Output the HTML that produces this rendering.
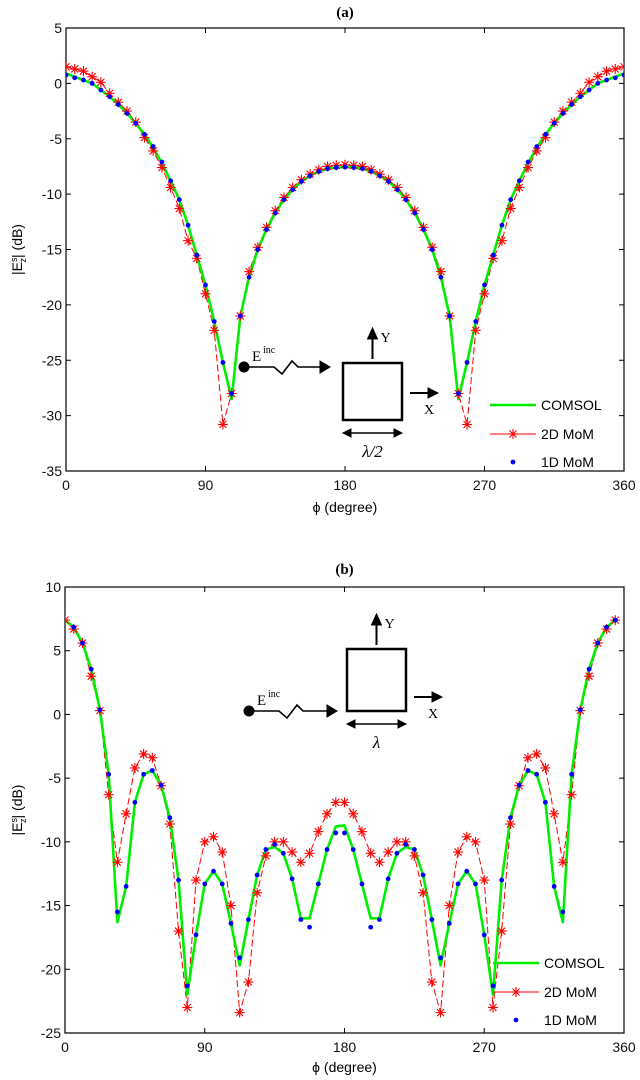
<!DOCTYPE html>
<html><head><meta charset="utf-8">
<style>
body{margin:0;background:#fff;}
svg{display:block;font-family:"Liberation Sans",sans-serif;}
.tk{font-size:14px;fill:#111;}
.ser{font-family:"Liberation Serif",serif;}
</style></head>
<body>
<svg id="chart" width="640" height="1080" viewBox="0 0 640 1080"></svg>
<script>
// ---------- Panel (a) data ----------
const phiStepA = 5.625;
const comsolA = [0.9,0.6,0.3,0,-0.6,-1.2,-1.9,-2.7,-3.6,-4.6,-5.8,-7.2,-8.8,-10.5,-12.8,-15.5,-18.2,-21.5,-25.2,-28.5,-21,-17.5,-15,-13.2,-11.7,-10.5,-9.6,-8.85,-8.35,-7.95,-7.7,-7.6,-7.55,-7.6,-7.7,-7.95,-8.35,-8.85,-9.6,-10.5,-11.7,-13.2,-15,-17.5,-21,-28.5,-25.2,-21.5,-18.2,-15.5,-12.8,-10.5,-8.8,-7.2,-5.8,-4.6,-3.6,-2.7,-1.9,-1.2,-0.6,0,0.3,0.6,0.9];
const mom2A = [1.5,1.3,1.1,0.6,0.1,-0.9,-1.7,-2.5,-3.5,-4.9,-6.1,-7.6,-9.4,-11.3,-14.2,-15.8,-19,-22.3,-30.8,-28,-21,-17,-14.8,-13,-11.5,-10.3,-9.4,-8.7,-8.2,-7.8,-7.5,-7.4,-7.35,-7.4,-7.5,-7.8,-8.2,-8.7,-9.4,-10.3,-11.5,-13,-14.8,-17,-21,-28,-30.8,-22.3,-19,-15.8,-14.2,-11.3,-9.4,-7.6,-6.1,-4.9,-3.5,-2.5,-1.7,-0.9,0.1,0.6,1.1,1.3,1.5];
const mom1A = [0.75,0.5,0.3,0,-0.6,-1.2,-1.9,-2.7,-3.6,-4.6,-5.7,-7.1,-8.8,-10.5,-12.8,-15.5,-18.2,-21.5,-25.2,-28,-21,-17.5,-15,-13.2,-11.7,-10.5,-9.6,-8.85,-8.35,-7.95,-7.7,-7.6,-7.55,-7.6,-7.7,-7.95,-8.35,-8.85,-9.6,-10.5,-11.7,-13.2,-15,-17.5,-21,-28,-25.2,-21.5,-18.2,-15.5,-12.8,-10.5,-8.8,-7.1,-5.7,-4.6,-3.6,-2.7,-1.9,-1.2,-0.6,0,0.3,0.5,0.75];
const yTicksA = [5,0,-5,-10,-15,-20,-25,-30,-35];
// ---------- Panel (b) data ----------
const phiStepB = 5.625;
const comsolB = [7.4,6.85,5.6,3.55,0.36,-4.7,-16.3,-13.5,-6.9,-4.7,-4.4,-5.55,-8.1,-13,-22,-17.3,-13.3,-12.3,-13.3,-16.4,-19.7,-16.1,-12.6,-10.6,-10.4,-10.9,-12.9,-16,-16,-13.3,-10.6,-8.8,-8.7,-10.6,-13.3,-16,-16,-12.9,-10.9,-10.4,-10.6,-12.6,-16.1,-19.7,-16.4,-13.3,-12.3,-13.3,-17.3,-22,-13,-8.1,-5.55,-4.4,-4.7,-6.9,-13.5,-16.3,-4.7,0.36,3.55,5.6,6.85,7.4];
const mom2B = [7.4,6.7,5.6,3.0,0.3,-6.3,-11.6,-7.8,-4.2,-3.1,-3.4,-5.6,-8.6,-17,-23,-13,-10,-9.6,-10.8,-15,-23.4,-21,-14,-11.1,-10,-10,-10.8,-11.6,-10.9,-9.2,-7.8,-6.9,-6.9,-7.8,-9.2,-10.9,-11.6,-10.8,-10,-10,-11.1,-14,-21,-23.4,-15,-10.8,-9.6,-10,-13,-23,-17,-8.6,-5.6,-3.4,-3.1,-4.2,-7.8,-11.6,-6.3,0.3,3.0,5.6,6.7,7.4];
const mom1B = [null,6.85,5.6,3.55,0.36,-4.7,-15.5,-13.5,-6.9,-4.7,-4.4,-5.55,-8.1,-13,-21.3,-17.3,-13.3,-12.3,-13.3,-16.4,-19.1,-16.1,-12.6,-10.6,-10.2,-10.9,-12.9,-16.1,-16.7,-13.3,-10.6,-9.3,-9.3,-10.6,-13.3,-16.7,-16.1,-12.9,-10.9,-10.2,-10.6,-12.6,-16.1,-19.1,-16.4,-13.3,-12.3,-13.3,-17.3,-21.3,-13,-8.1,-5.55,-4.4,-4.7,-6.9,-13.5,-15.5,-4.7,0.36,3.55,5.6,6.85,7.4];
const yTicksB = [10,5,0,-5,-10,-15,-20,-25];
const xTicks = [0,90,180,270,360];

const NS="http://www.w3.org/2000/svg";
const svg=document.getElementById('chart');
function mk(tag,attrs,parent,text){const e=document.createElementNS(NS,tag);for(const k in attrs)e.setAttribute(k,attrs[k]);if(text!==undefined)e.textContent=text;(parent||svg).appendChild(e);return e;}

function panel(opts){
  const {id,L,R,T,B,ymax,ymin,yTicks,comsol,mom2,mom1,step,titleY,title,xlabY}=opts;
  const g=mk('g',{});
  
  
  const xs=v=>L+(v/360)*(R-L);
  const ys=v=>T+(ymax-v)/(ymax-ymin)*(B-T);
  const clip=mk('clipPath',{id:'clip'+id},g);
  mk('rect',{x:L,y:T,width:R-L,height:B-T},clip);
  const t=mk('text',{x:(L+R)/2,y:titleY,'text-anchor':'middle','font-size':'15','font-weight':'bold',class:'ser'},g,title);
  
  
  const frame=mk('rect',{x:L,y:T,width:R-L,height:B-T,fill:'none',stroke:'#000','stroke-width':1.2},g);
  
  
  yTicks.forEach(v=>{
    const y=ys(v);
    mk('line',{x1:L,y1:y,x2:L+5,y2:y,stroke:'#000'},g);
    mk('line',{x1:R,y1:y,x2:R-5,y2:y,stroke:'#000'},g);
    const lb=mk('text',{x:L-4,y:y+5,'text-anchor':'end',class:'tk'},g,String(v));
    
    
  });
  xTicks.forEach(v=>{
    const x=xs(v);
    mk('line',{x1:x,y1:B,x2:x,y2:B-5,stroke:'#000'},g);
    mk('line',{x1:x,y1:T,x2:x,y2:T+5,stroke:'#000'},g);
    const lb=mk('text',{x:x,y:B+19,'text-anchor':'middle',class:'tk'},g,String(v));
    
    
  });
  const xl=mk('text',{x:(L+R)/2,y:xlabY,'text-anchor':'middle','font-size':'14'},g,'ϕ (degree)');
  
  
  const yl=mk('text',{transform:`translate(22,${(T+B)/2}) rotate(-90)`,'text-anchor':'middle','font-size':'14'},g);
  
  
  mk('tspan',{},yl,'|E');
  mk('tspan',{dy:-5,'font-size':'9'},yl,'s');
  mk('tspan',{dy:9,dx:-5,'font-size':'9'},yl,'z');
  mk('tspan',{dy:-4},yl,'| (dB)');
  const data=mk('g',{'clip-path':`url(#clip${id})`},g);
  const pts=arr=>arr.map((v,i)=>v===null?null:[xs(i*step),ys(v)]).filter(p=>p);
  const p2=pts(mom2);
  const l2=mk('polyline',{points:p2.map(p=>p.join(',')).join(' '),fill:'none',stroke:'#ff0000','stroke-width':1,'stroke-dasharray':'7,3'},data);
  
  
  const pc=pts(comsol);
  const lc=mk('polyline',{points:pc.map(p=>p.join(',')).join(' '),fill:'none',stroke:'#00ee00','stroke-width':2.6,'stroke-linejoin':'round'},data);
  
  
  p2.forEach(p=>{
    const s=mk('g',{stroke:'#ff0000','stroke-width':1.1},data);
    
    
    star(s,p[0],p[1],5);
  });
  pts(mom1).forEach(p=>{
    const c=mk('circle',{cx:p[0],cy:p[1],r:2.4,fill:'#0000ff'},data);
    
    
  });
  return g;
}
function star(g,x,y,r){
  mk('line',{x1:x-r,y1:y,x2:x+r,y2:y},g);
  mk('line',{x1:x,y1:y-r,x2:x,y2:y+r},g);
  mk('line',{x1:x-r*0.7,y1:y-r*0.7,x2:x+r*0.7,y2:y+r*0.7},g);
  mk('line',{x1:x-r*0.7,y1:y+r*0.7,x2:x+r*0.7,y2:y-r*0.7},g);
}
function legend(x,y,id){
  const g=mk('g',{});
  
  
  mk('line',{x1:x,y1:y,x2:x+46,y2:y,stroke:'#00ee00','stroke-width':2.6},g);
  const e1=mk('text',{x:x+51,y:y+5,'font-size':'14'},g,'COMSOL');
  
  
  mk('line',{x1:x,y1:y+29,x2:x+46,y2:y+29,stroke:'#ff0000','stroke-width':1},g);
  const sg=mk('g',{stroke:'#ff0000','stroke-width':1.1},g);star(sg,x+23,y+29,5);
  const e2=mk('text',{x:x+51,y:y+34,'font-size':'14'},g,'2D MoM');
  
  
  mk('circle',{cx:x+23,cy:y+57,r:2.4,fill:'#0000ff'},g);
  const e3=mk('text',{x:x+51,y:y+62,'font-size':'14'},g,'1D MoM');
  
  
}
function inset(o,id,lam){
  const g=mk('g',{stroke:'#000',fill:'none'});
  
  
  mk('circle',{cx:o.dx,cy:o.dy,r:5,fill:'#000'},g);
  const y=o.dy;
  mk('polyline',{points:`${o.dx+5},${y} ${o.dx+30},${y} ${o.dx+38},${y+7} ${o.dx+48},${y-6} ${o.dx+54},${y} ${o.ax-10},${y}`,'stroke-width':1.6},g);
  mk('polygon',{points:`${o.ax-10},${y-6} ${o.ax},${y} ${o.ax-10},${y+6}`,fill:'#000'},g);
  const et=mk('text',{x:o.dx+8,y:y-6,'font-size':'15',stroke:'none',fill:'#000',class:'ser'},g,'E');
  
  
  mk('text',{x:o.dx+19,y:y-14,'font-size':'10',stroke:'none',fill:'#000',class:'ser'},g,'inc');
  mk('rect',{x:o.sx,y:o.sy,width:o.s,height:o.sh,'stroke-width':2.5},g);
  const cx=o.sx+o.s/2;
  mk('line',{x1:cx,y1:o.sy-4,x2:cx,y2:o.sy-26,'stroke-width':2},g);
  mk('polygon',{points:`${cx-5},${o.sy-24} ${cx},${o.sy-35} ${cx+5},${o.sy-24}`,fill:'#000'},g);
  mk('text',{x:cx+8,y:o.sy-21,'font-size':'14',stroke:'none',fill:'#000',class:'ser'},g,'Y');
  const xa=o.sx+o.s+8, xy=o.xy;
  mk('line',{x1:xa,y1:xy,x2:xa+20,y2:xy,'stroke-width':2},g);
  mk('polygon',{points:`${xa+18},${xy-5} ${xa+28},${xy} ${xa+18},${xy+5}`,fill:'#000'},g);
  mk('text',{x:xa+14,y:xy+21,'font-size':'14',stroke:'none',fill:'#000',class:'ser'},g,'X');
  const dy=o.sy+o.sh+13;
  mk('line',{x1:o.sx+4,y1:dy,x2:o.sx+o.s-4,y2:dy,'stroke-width':1.4},g);
  mk('polygon',{points:`${o.sx+8},${dy-4} ${o.sx},${dy} ${o.sx+8},${dy+4}`,fill:'#000'},g);
  mk('polygon',{points:`${o.sx+o.s-8},${dy-4} ${o.sx+o.s},${dy} ${o.sx+o.s-8},${dy+4}`,fill:'#000'},g);
  const lt=mk('text',{x:cx,y:dy+24,'text-anchor':'middle','font-size':'17','font-style':'italic',stroke:'none',fill:'#000',class:'ser'},g,lam);
  
  
}
panel({id:'a',L:66,R:624,T:28,B:471,ymax:5,ymin:-35,yTicks:yTicksA,comsol:comsolA,mom2:mom2A,mom1:mom1A,step:phiStepA,titleY:17,title:'(a)',xlabY:512});
inset({dx:244,dy:367,ax:330,sx:343,sy:363,s:59,sh:57,xy:393},'a','λ/2');
legend(490,405,'a');
panel({id:'b',L:65,R:624,T:587,B:1033,ymax:10,ymin:-25,yTicks:yTicksB,comsol:comsolB,mom2:mom2B,mom1:mom1B,step:phiStepB,titleY:574,title:'(b)',xlabY:1072});
inset({dx:249,dy:711,ax:337,sx:347,sy:649,s:59,sh:62,xy:697},'b','λ');
legend(493,963,'b');
</script>
</body></html>
